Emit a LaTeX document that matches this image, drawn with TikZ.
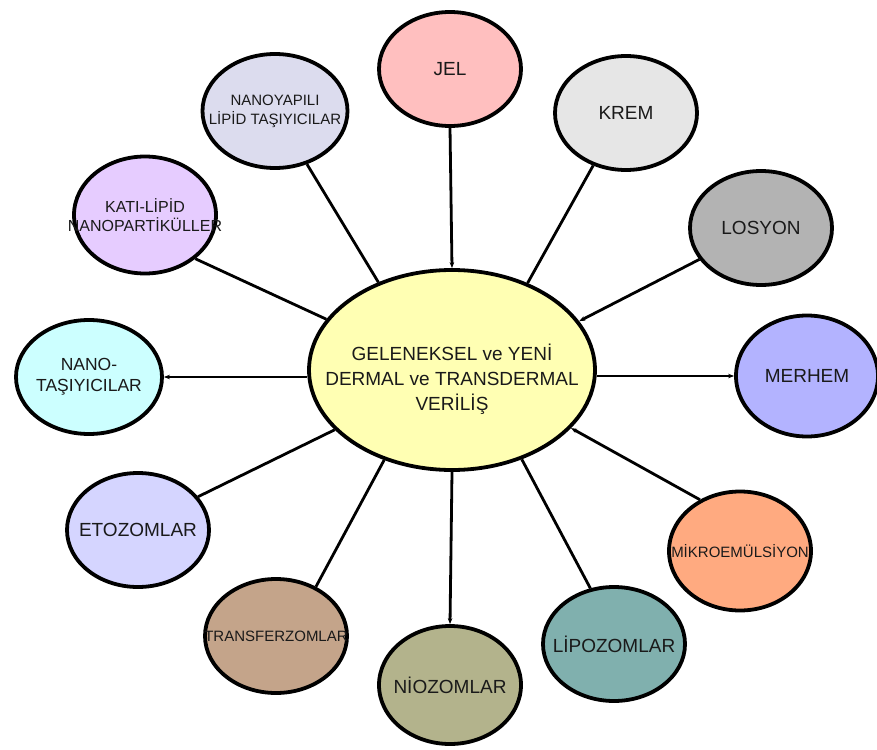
\documentclass[tikz,border=0pt]{standalone}
\usepackage{fontspec}
\setmainfont{Liberation Sans}
\usepackage{tikz}
\usetikzlibrary{shapes.geometric, arrows.meta}
\definecolor{dlv-center}{HTML}{FFFFB3}
\definecolor{dlv-pink}{HTML}{FFBFBF}
\definecolor{dlv-light}{HTML}{E6E6E6}
\definecolor{dlv-gray}{HTML}{B3B3B3}
\definecolor{dlv-blue}{HTML}{B3B3FF}
\definecolor{dlv-orange}{HTML}{FFAA80}
\definecolor{dlv-teal}{HTML}{80B0AE}
\definecolor{dlv-olive}{HTML}{B3B38C}
\definecolor{dlv-brown}{HTML}{C4A48A}
\definecolor{dlv-lav}{HTML}{D5D5FF}
\definecolor{dlv-cyan}{HTML}{CCFFFF}
\definecolor{dlv-violet}{HTML}{E6CCFF}
\definecolor{dlv-mist}{HTML}{DCDCEE}
\definecolor{dlv-text}{HTML}{1A1A1A}

\begin{document}
\begin{tikzpicture}[x=1pt, y=-1pt,
    bub/.style={ellipse, draw, line width=3.8pt, minimum width=142pt,
                minimum height=114pt, inner sep=-30pt, align=center,
                text=dlv-text, font=\fontsize{19}{25}\selectfont},
    small/.style={font=\fontsize{15}{19}\selectfont},
    link/.style={line width=2.8pt},
    tip/.style={link, -{Stealth[length=6pt, width=4.5pt]}},
]
    \useasboundingbox (0,0) rectangle (877,749);

    \node[bub, fill=dlv-center, minimum width=286pt, minimum height=200pt] (main) at (452,370)
        {\\[10pt]GELENEKSEL ve YENİ\\DERMAL ve TRANSDERMAL\\VERİLİŞ};

    \node[bub, fill=dlv-pink] (jel) at (450,69) {JEL};
    \node[bub, fill=dlv-light] (krem) at (626,113) {KREM};
    \node[bub, fill=dlv-gray] (losyon) at (761,228) {LOSYON};
    \node[bub, fill=dlv-blue, minimum height=121pt] (merhem) at (807,376) {MERHEM};
    \node[bub, fill=dlv-orange, small, minimum height=119pt] (mikro) at (740,551) {MİKROEMÜLSİYON};
    \node[bub, fill=dlv-teal] (lipo) at (614,644) {LİPOZOMLAR};
    \node[bub, fill=dlv-olive, minimum height=118pt] (nio) at (450,685) {NİOZOMLAR};
    \node[bub, fill=dlv-brown, small] (transfer) at (276,636) {TRANSFERZOMLAR};
    \node[bub, fill=dlv-lav] (eto) at (138,530) {ETOZOMLAR};
    \node[bub, fill=dlv-cyan, minimum width=146pt, font=\fontsize{17.5}{21}\selectfont] (nano) at (89,377)
        {NANO-\\TAŞIYICILAR};
    \node[bub, fill=dlv-violet, small, font=\fontsize{16}{19}\selectfont, minimum height=117pt] (kati) at (145,215)
        {KATI-LİPİD\\NANOPARTİKÜLLER};
    \node[bub, fill=dlv-mist, small, minimum width=145pt] (yapili) at (275,111) {NANOYAPILI\\LİPİD TAŞIYICILAR};

    % connectors
    \draw[tip] (jel.-90) -- (main.90);
    \draw[link] (krem.238) -- (main.49);
    \draw[tip] (losyon.207) -- (main.21);
    \draw[tip] (main.east |- merhem.west) -- (merhem.west);
    \draw[tip] (mikro.128) -- (main.-26);
    \draw[link] (main.-52) -- (lipo.113);
    \draw[tip] (main.-90) -- (nio.90);
    \draw[link] (main.-127) -- (transfer.51);
    \draw[link] (main.-153) -- (eto.29);
    \draw[tip] (main.west |- nano.east) -- (nano.east);
    \draw[link] (main.158) -- (kati.-41);
    \draw[link] (main.130) -- (yapili.-59);
\end{tikzpicture}
\end{document}
